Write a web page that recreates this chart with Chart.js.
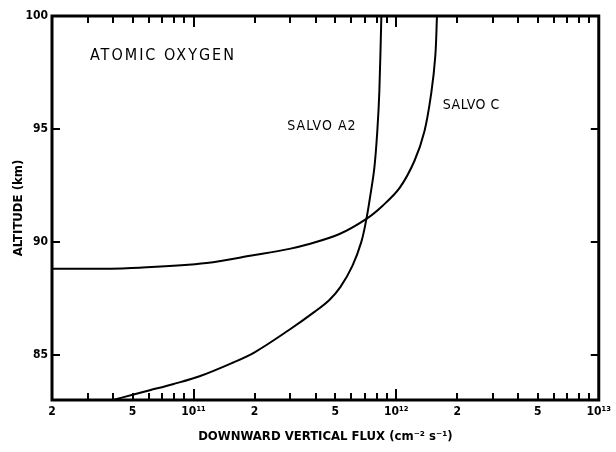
<!DOCTYPE html>
<html>
<head>
<meta charset="utf-8">
<script src="https://cdn.jsdelivr.net/npm/chart.js@4/dist/chart.umd.min.js"></script>
<style>
  html, body { margin: 0; padding: 0; background: #fff; }
  #wrap { width: 616px; height: 452px; }
</style>
</head>
<body>
<div id="wrap"><canvas id="myChart"></canvas></div>
<script>
// data (flux cm-2 s-1, altitude km)
const salvoA2Flux = [4.0e10, 5.0e10, 6.08e10, 7.9e10, 1.07e11, 1.56e11, 2.0e11, 2.97e11, 3.95e11, 4.68e11, 5.31e11, 6.08e11, 6.73e11, 7.13e11, 7.38e11, 7.8e11, 8.07e11, 8.26e11, 8.45e11];
const salvoA2Alt  = [83.0, 83.23, 83.43, 83.7, 84.05, 84.65, 85.11, 86.11, 86.9, 87.43, 88.01, 88.94, 90.0, 91.02, 91.81, 93.27, 94.91, 96.68, 100.0];

const salvoCFlux = [2.0e10, 3.33e10, 5.4e10, 1.16e11, 2.0e11, 2.97e11, 3.6e11, 5.25e11, 7.13e11, 8.55e11, 1.04e12, 1.23e12, 1.38e12, 1.49e12, 1.56e12, 1.59e12];
const salvoCAlt  = [88.81, 88.81, 88.86, 89.07, 89.42, 89.69, 89.87, 90.35, 91.02, 91.59, 92.39, 93.58, 94.91, 96.59, 98.23, 100.0];

// axis ticks
const xMinorTicks = [3e10, 4e10, 6e10, 7e10, 8e10, 9e10, 3e11, 4e11, 6e11, 7e11, 8e11, 9e11, 3e12, 4e12, 6e12, 7e12, 8e12, 9e12];
const xLabelValues = [2e10, 5e10, 1e11, 2e11, 5e11, 1e12, 2e12, 5e12, 1e13];
const xLabelText = ['2', '5', '10¹¹', '2', '5', '10¹²', '2', '5', '10¹³'];
const xDecades = [1e11, 1e12];
const yTickValues = [85, 90, 95, 100];

// text on the plot
const noteText = ['ATOMIC OXYGEN', 'SALVO A2', 'SALVO C'];
const noteFlux = [3.08e10, 2.9e11, 1.7e12];
const noteAlt  = [98.23, 95.1, 96.06];
const noteSize = [16, 14, 14];
const noteSpacing = ['2px', '1px', '0.5px'];

const FONT = "'DejaVu Sans Condensed', 'DejaVu Sans', sans-serif";

function toPoints(xs, ys) {
  return xs.map((x, i) => ({ x: x, y: ys[i] }));
}

// frame, inward ticks and the labels on the plot
const framePlugin = {
  id: 'frame',
  afterDraw(chart) {
    const ctx = chart.ctx;
    const a = chart.chartArea;
    const xs = chart.scales.x;
    const ys = chart.scales.y;
    ctx.save();
    ctx.strokeStyle = '#000';
    ctx.lineWidth = 2;
    const tick = (x1, y1, x2, y2) => {
      ctx.beginPath(); ctx.moveTo(x1, y1); ctx.lineTo(x2, y2); ctx.stroke();
    };
    const allX = xMinorTicks.concat(xLabelValues);
    allX.forEach(v => {
      const px = Math.round(xs.getPixelForValue(v));
      const len = xDecades.includes(v) ? 11 : 7;
      tick(px, a.bottom, px, a.bottom - len);
      tick(px, a.top, px, a.top + len);
    });
    yTickValues.forEach(v => {
      const py = Math.round(ys.getPixelForValue(v));
      tick(a.left, py, a.left + 8, py);
      tick(a.right, py, a.right - 8, py);
    });
    ctx.lineWidth = 3;
    ctx.strokeRect(a.left, a.top, a.right - a.left, a.bottom - a.top);

    ctx.fillStyle = '#000';
    ctx.textBaseline = 'middle';
    ctx.textAlign = 'left';
    noteText.forEach((t, i) => {
      ctx.font = noteSize[i] + 'px ' + FONT;
      ctx.letterSpacing = noteSpacing[i];
      ctx.fillText(t, xs.getPixelForValue(noteFlux[i]), ys.getPixelForValue(noteAlt[i]));
    });
    ctx.restore();
  }
};

const ctx = document.getElementById('myChart').getContext('2d');
Chart.defaults.color = '#000';
Chart.defaults.font.family = FONT;

const myChart = new Chart(ctx, {
  type: 'line',
  data: {
    datasets: [{
      label: 'SALVO A2',
      data: toPoints(salvoA2Flux, salvoA2Alt),
      borderColor: '#000',
      borderWidth: 2,
      pointRadius: 0,
      tension: 0.35
    }, {
      label: 'SALVO C',
      data: toPoints(salvoCFlux, salvoCAlt),
      borderColor: '#000',
      borderWidth: 2,
      pointRadius: 0,
      tension: 0.35
    }]
  },
  options: {
    responsive: true,
    maintainAspectRatio: false,
    animation: false,
    layout: { padding: { left: 0, right: 16, top: 16, bottom: 0 } },
    plugins: { legend: { display: false }, tooltip: { enabled: false } },
    scales: {
      x: {
        type: 'logarithmic',
        min: 2e10,
        max: 1e13,
        grid: { display: false, drawTicks: false },
        border: { display: false },
        afterBuildTicks: scale => {
          scale.ticks = xLabelValues.map(v => ({ value: v }));
        },
        afterFit: scale => { scale.height = 52; },
        ticks: {
          autoSkip: false,
          maxRotation: 0,
          padding: 5,
          font: { size: 12, weight: 'bold' },
          callback: (value, index) => xLabelText[index]
        },
        title: {
          display: true,
          text: 'DOWNWARD VERTICAL FLUX (cm⁻² s⁻¹)',
          font: { size: 13, weight: 'bold' },
          padding: { top: 0, bottom: 8 }
        }
      },
      y: {
        type: 'linear',
        min: 83,
        max: 100,
        grid: { display: false, drawTicks: false },
        border: { display: false },
        afterBuildTicks: scale => {
          scale.ticks = yTickValues.map(v => ({ value: v }));
        },
        afterFit: scale => { scale.width = 52; },
        ticks: {
          padding: 4,
          font: { size: 12, weight: 'bold' }
        },
        title: {
          display: true,
          text: 'ALTITUDE (km)',
          font: { size: 13, weight: 'bold' },
          padding: { top: 11, bottom: 0 }
        }
      }
    }
  },
  plugins: [framePlugin]
});
</script>
</body>
</html>
